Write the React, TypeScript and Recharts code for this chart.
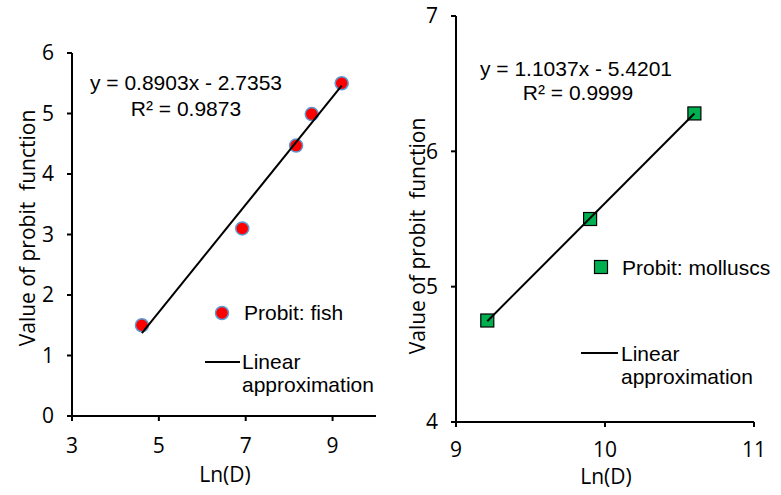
import React from "react";
import { ScatterChart, Scatter, XAxis, YAxis, Legend } from "recharts";

// ---- Data ----
const fishLnD = [4.61, 6.92, 8.16, 8.52, 9.21];
const fishProbit = [1.5, 3.1, 4.47, 4.99, 5.5];
const fishTrendLnD = [4.61, 9.21];
const fishTrendProbit = [1.37, 5.46];

const molluscLnD = [9.21, 9.9, 10.6];
const molluscProbit = [4.75, 5.5, 6.28];
const molluscTrendLnD = [9.21, 10.6];
const molluscTrendProbit = [4.745, 6.279];

const fishXTicks = [3, 5, 7, 9];
const fishYTicks = [0, 1, 2, 3, 4, 5, 6];
const molluscXTicks = [9, 10, 11];
const molluscYTicks = [4, 5, 6, 7];

const fishEquation = ["y = 0.8903x - 2.7353", "R² = 0.9873"];
const molluscEquation = ["y = 1.1037x - 5.4201", "R² = 0.9999"];

const xTitle = "Ln(D)";
const yTitle = "Value of probit  function";

const zip = (xs: number[], ys: number[]) => xs.map((x, i) => ({ x, y: ys[i] }));

const fishData = zip(fishLnD, fishProbit);
const fishTrend = zip(fishTrendLnD, fishTrendProbit);
const molluscData = zip(molluscLnD, molluscProbit);
const molluscTrend = zip(molluscTrendLnD, molluscTrendProbit);

const TICK_FONT = "'Open Sans', sans-serif";
const TEXT_FONT = "'Liberation Sans', Arial, sans-serif";
const tickStyle = { fontFamily: TICK_FONT, fontSize: 21, fill: "#000" };

const RedDot = (p: any) => (
  <circle cx={p.cx} cy={p.cy} r={6.5} fill="#FF0000" stroke="#5B9BD5" strokeWidth={1.5} />
);
const GreenSquare = (p: any) => (
  <rect x={p.cx - 6.5} y={p.cy - 6.5} width={13} height={13} fill="#00B050" stroke="#000" strokeWidth={1.2} />
);
const NoShape = () => <g />;

const FishLegend = () => (
  <svg width={200} height={110} style={{ overflow: "visible", display: "block" }}>
    <circle cx={27} cy={18} r={6.5} fill="#FF0000" stroke="#5B9BD5" strokeWidth={1.5} />
    <text x={49} y={25} style={{ fontFamily: TEXT_FONT, fontSize: 21 }} fill="#000">Probit: fish</text>
    <line x1={10} x2={45} y1={67} y2={67} stroke="#000" strokeWidth={2} />
    <text x={47} y={74} style={{ fontFamily: TEXT_FONT, fontSize: 21 }} fill="#000">Linear</text>
    <text x={47} y={97} style={{ fontFamily: TEXT_FONT, fontSize: 21 }} fill="#000">approximation</text>
  </svg>
);

const MolluscLegend = () => (
  <svg width={200} height={140} style={{ overflow: "visible", display: "block" }}>
    <rect x={-0.5} y={5.5} width={13} height={13} fill="#00B050" stroke="#000" strokeWidth={1.2} />
    <text x={27} y={20} style={{ fontFamily: TEXT_FONT, fontSize: 21 }} fill="#000">Probit: molluscs</text>
    <line x1={-14} x2={23} y1={98} y2={98} stroke="#000" strokeWidth={2} />
    <text x={26} y={106} style={{ fontFamily: TEXT_FONT, fontSize: 21 }} fill="#000">Linear</text>
    <text x={26} y={129} style={{ fontFamily: TEXT_FONT, fontSize: 21 }} fill="#000">approximation</text>
  </svg>
);

const titleStyle = { fontFamily: TICK_FONT, fontSize: 21, whiteSpace: "pre" as const };

export default function App() {
  return (
    <div style={{ position: "absolute", left: 0, top: 0, width: 781, height: 495, background: "#fff" }}>
      <div style={{ position: "absolute", left: 0, top: 0 }}>
        <ScatterChart width={400} height={495} margin={{ top: 53, right: 24, bottom: 19, left: 12 }}>
          <XAxis
            type="number"
            dataKey="x"
            domain={[3, 10]}
            ticks={fishXTicks}
            allowDataOverflow
            height={60}
            axisLine={{ stroke: "#000", strokeWidth: 2 }}
            tickLine={{ stroke: "#000", strokeWidth: 2 }}
            tickSize={5}
            tickMargin={17}
            tick={tickStyle}
          />
          <YAxis
            type="number"
            dataKey="y"
            domain={[0, 6]}
            ticks={fishYTicks}
            allowDataOverflow
            width={60}
            axisLine={{ stroke: "#000", strokeWidth: 2 }}
            tickLine={{ stroke: "#000", strokeWidth: 2 }}
            tickSize={5}
            tickMargin={13}
            tick={tickStyle}
          />
          <Scatter name="Probit: fish" data={fishData} shape={RedDot} isAnimationActive={false} />
          <Scatter
            name="Linear approximation"
            data={fishTrend}
            shape={NoShape}
            line={{ stroke: "#000", strokeWidth: 2 }}
            legendType="line"
            isAnimationActive={false}
          />
          <Legend
            layout="vertical"
            align="center"
            verticalAlign="middle"
            content={FishLegend}
            wrapperStyle={{ position: "absolute", left: 195, top: 295, width: 200, height: 110 }}
          />
          <text x={186} y={90} textAnchor="middle" style={{ fontFamily: TEXT_FONT, fontSize: 21 }} fill="#000">
            {fishEquation[0]}
          </text>
          <text x={186} y={116} textAnchor="middle" style={{ fontFamily: TEXT_FONT, fontSize: 21 }} fill="#000">
            {fishEquation[1]}
          </text>
          <text x={225} y={482} textAnchor="middle" style={{ fontFamily: TICK_FONT, fontSize: 21 }} fill="#000">
            {xTitle}
          </text>
          <text
            x={0}
            y={0}
            transform="translate(35 228) rotate(-90)"
            textAnchor="middle"
            xmlSpace="preserve"
            style={titleStyle}
            fill="#000"
          >
            {yTitle}
          </text>
        </ScatterChart>
      </div>
      <div style={{ position: "absolute", left: 395, top: 0 }}>
        <ScatterChart width={386} height={495} margin={{ top: 16, right: 27, bottom: 13, left: 11 }}>
          <XAxis
            type="number"
            dataKey="x"
            domain={[9, 11]}
            ticks={molluscXTicks}
            allowDataOverflow
            height={60}
            axisLine={{ stroke: "#000", strokeWidth: 2 }}
            tickLine={{ stroke: "#000", strokeWidth: 2 }}
            tickSize={5}
            tickMargin={15}
            tick={tickStyle}
          />
          <YAxis
            type="number"
            dataKey="y"
            domain={[4, 7]}
            ticks={molluscYTicks}
            allowDataOverflow
            width={50}
            axisLine={{ stroke: "#000", strokeWidth: 2 }}
            tickLine={{ stroke: "#000", strokeWidth: 2 }}
            tickSize={5}
            tickMargin={13}
            tick={tickStyle}
          />
          <Scatter name="Probit: molluscs" data={molluscData} shape={GreenSquare} isAnimationActive={false} />
          <Scatter
            name="Linear approximation"
            data={molluscTrend}
            shape={NoShape}
            line={{ stroke: "#000", strokeWidth: 2 }}
            legendType="line"
            isAnimationActive={false}
          />
          <Legend
            layout="vertical"
            align="center"
            verticalAlign="middle"
            content={MolluscLegend}
            wrapperStyle={{ position: "absolute", left: 200, top: 255, width: 200, height: 140 }}
          />
          <text x={181} y={76} textAnchor="middle" style={{ fontFamily: TEXT_FONT, fontSize: 21 }} fill="#000">
            {molluscEquation[0]}
          </text>
          <text x={183} y={100} textAnchor="middle" style={{ fontFamily: TEXT_FONT, fontSize: 21 }} fill="#000">
            {molluscEquation[1]}
          </text>
          <text x={211} y={484} textAnchor="middle" style={{ fontFamily: TICK_FONT, fontSize: 21 }} fill="#000">
            {xTitle}
          </text>
          <text
            x={0}
            y={0}
            transform="translate(30 236) rotate(-90)"
            textAnchor="middle"
            xmlSpace="preserve"
            style={titleStyle}
            fill="#000"
          >
            {yTitle}
          </text>
        </ScatterChart>
      </div>
    </div>
  );
}
